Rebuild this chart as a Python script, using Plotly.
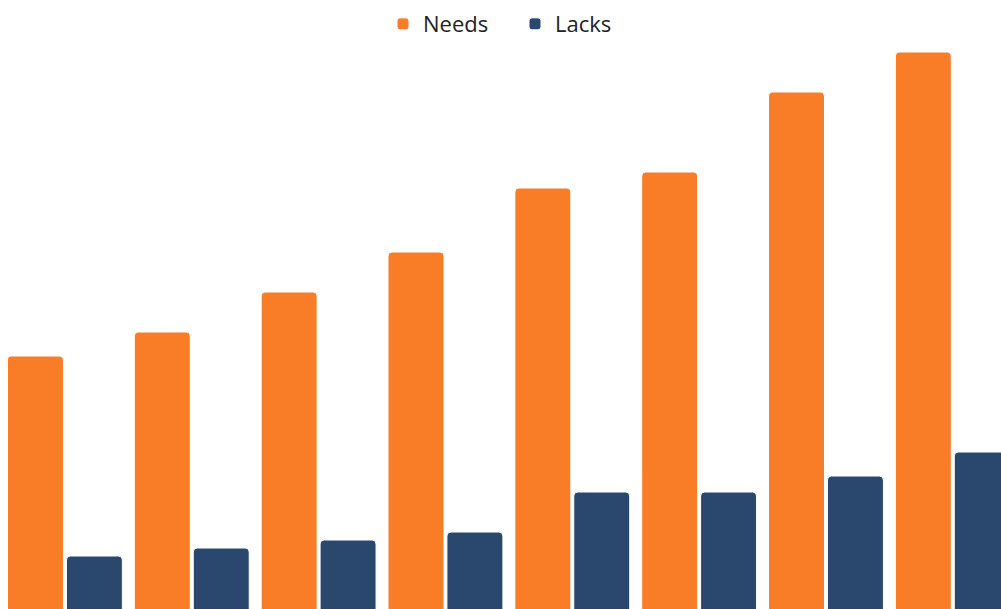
import plotly.graph_objects as go

categories = ["G1", "G2", "G3", "G4", "G5", "G6", "G7", "G8"]
needs = [32, 35, 40, 45, 53, 55, 65, 70]
lacks = [7, 8, 9, 10, 15, 15, 17, 20]

ORANGE = "#F97D27"
NAVY = "#2A486D"

fig = go.Figure()
fig.add_trace(go.Bar(name="Needs", x=categories, y=needs,
                     marker=dict(color=ORANGE, line=dict(color="white", width=1))))
fig.add_trace(go.Bar(name="Lacks", x=categories, y=lacks,
                     marker=dict(color=NAVY, line=dict(color="white", width=1))))

fig.update_layout(
    width=1001, height=609,
    margin=dict(l=0, r=0, t=50, b=0),
    paper_bgcolor="white", plot_bgcolor="white",
    barmode="group", bargap=0.071, bargroupgap=0.05,
    barcornerradius=4,
    font=dict(family="Open Sans, Lato, sans-serif", size=22, color="#222222"),
    legend=dict(orientation="h", x=383 / 1001, xanchor="left", y=0.995, yanchor="top",
                yref="container", font=dict(size=22), entrywidth=87),
    showlegend=True,
)
fig.update_xaxes(range=[-0.512, 7.38], showticklabels=False, showgrid=False,
                 zeroline=False, showline=False)
fig.update_yaxes(range=[0.375, 70.25], showticklabels=False, showgrid=False,
                 zeroline=False, showline=False)

fig.write_html("out.html", config={"displayModeBar": False},
               post_script="document.body.style.margin='0';document.body.style.overflow='hidden';")
